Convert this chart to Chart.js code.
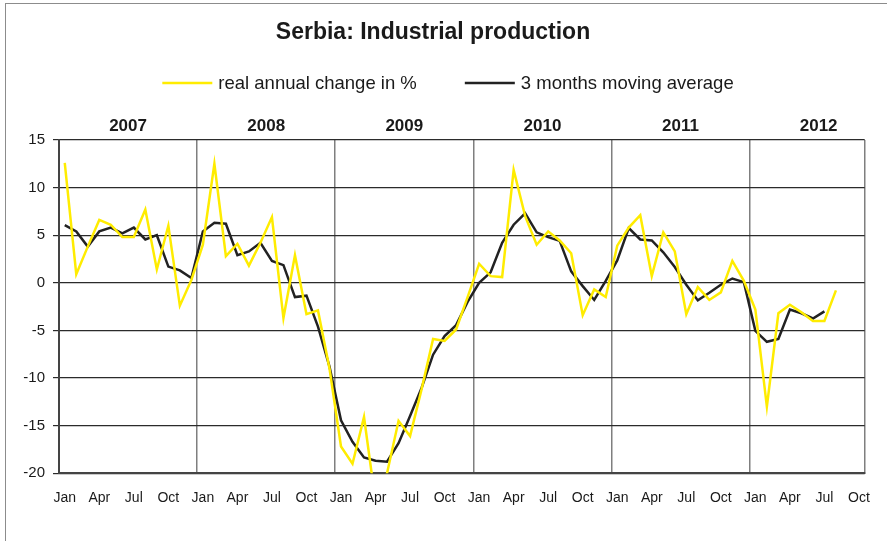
<!DOCTYPE html>
<html>
<head>
<meta charset="utf-8">
<title>Serbia: Industrial production</title>
<script src="https://cdn.jsdelivr.net/npm/chart.js@4.4.0/dist/chart.umd.min.js"></script>
<style>
  html, body { margin: 0; padding: 0; background: #fff; }
  #marco { position: relative; width: 887px; height: 541px; }
  #borde { position: absolute; left: 5px; top: 3px; right: 0; bottom: 0; border-left: 1px solid #8c8c8c; border-top: 1px solid #8c8c8c; pointer-events: none; }
</style>
</head>
<body>
<div id="marco">
  <canvas id="grafico" width="887" height="541"></canvas>
  <div id="borde"></div>
</div>
<script>
// Meses y años del eje horizontal (ene 2007 - oct 2012)
const meses = ['Jan', 'Feb', 'Mar', 'Apr', 'May', 'Jun', 'Jul', 'Aug', 'Sep', 'Oct', 'Nov', 'Dec'];
const anios = ['2007', '2008', '2009', '2010', '2011', '2012'];

// Producción industrial: variación anual real en %
const cambioAnual = [
    12.6, 0.9, 3.8, 6.6, 6.1, 4.8, 4.8, 7.7, 1.4, 6.0, -2.4, 0.3,        // 2007
    4.0, 12.5, 2.8, 4.1, 1.8, 4.2, 6.9, -3.7, 2.9, -3.3, -2.9, -9.0,     // 2008
    -17.2, -19.0, -14.1, -23.0, -20.0, -14.5, -16.1, -11.2, -5.9, -6.1, -4.9, -1.5, // 2009
    2.0, 0.7, 0.6, 11.85, 7.0, 4.0, 5.4, 4.45, 3.1, -3.4, -0.7, -1.5,    // 2010
    3.9, 5.8, 7.1, 0.7, 5.3, 3.3, -3.3, -0.45, -1.8, -1.0, 2.3, 0.2,     // 2011
    -2.8, -13.0, -3.2, -2.3, -3.1, -4.0, -4.0, -0.8, null, null          // 2012
];

// Media móvil de 3 meses
const mediaMovil = [
    6.05, 5.4, 3.8, 5.4, 5.8, 5.2, 5.8, 4.55, 5.0, 1.7, 1.3, 0.5,
    5.4, 6.3, 6.2, 2.9, 3.3, 4.2, 2.3, 1.85, -1.5, -1.35, -4.6, -8.8,
    -14.45, -16.7, -18.35, -18.7, -18.8, -16.85, -14.0, -11.05, -7.55, -5.6, -4.45, -2.0,
    0.0, 1.1, 4.2, 6.1, 7.3, 5.3, 4.8, 4.4, 1.2, -0.35, -1.8, 0.2,
    2.35, 5.75, 4.55, 4.45, 3.2, 1.65, -0.2, -1.85, -1.05, -0.2, 0.45, 0.07,
    -5.05, -6.2, -5.9, -2.8, -3.2, -3.75, -3.0, null, null, null
];

// Etiquetas mensuales (70 meses)
const etiquetas = [];
anios.forEach(function(anio) {
    meses.forEach(function(mes) {
        etiquetas.push(mes + ' ' + anio);
    });
});
etiquetas.length = cambioAnual.length;

const fuente = '"Liberation Sans", Arial, sans-serif';
Chart.defaults.font.family = fuente;
Chart.defaults.color = '#1a1a1a';

// Leyenda dibujada a mano: línea corta y texto, centrada bajo el título
const leyenda = {
    id: 'leyenda',
    afterDraw: function(chart) {
        const c = chart.ctx;
        const series = chart.data.datasets;
        const largo = 50, hueco = 6, separacion = 48, yLeyenda = 83;
        c.save();
        c.font = '18.5px ' + fuente;
        c.textBaseline = 'middle';
        const anchos = series.map(function(s) {
            return largo + hueco + c.measureText(s.label).width;
        });
        const total = anchos.reduce(function(a, b) { return a + b; }, 0) + separacion * (series.length - 1);
        let x = 448 - total / 2;
        series.forEach(function(s, i) {
            c.strokeStyle = s.borderColor;
            c.lineWidth = s.borderWidth;
            c.beginPath();
            c.moveTo(x, yLeyenda);
            c.lineTo(x + largo, yLeyenda);
            c.stroke();
            c.fillStyle = '#1a1a1a';
            c.fillText(s.label, x + largo + hueco, yLeyenda + 1);
            x += anchos[i] + separacion;
        });
        c.restore();
    }
};

const ctx = document.getElementById('grafico').getContext('2d');
const grafico = new Chart(ctx, {
    type: 'line',
    data: {
        labels: etiquetas,
        datasets: [{
            label: 'real annual change in %',
            data: cambioAnual,
            xAxisID: 'x',
            borderColor: '#ffec00',
            borderWidth: 2.5,
            pointRadius: 0,
            tension: 0
        }, {
            label: '3 months moving average',
            data: mediaMovil,
            xAxisID: 'x',
            borderColor: '#222222',
            borderWidth: 2.5,
            pointRadius: 0,
            tension: 0
        }]
    },
    options: {
        responsive: false,
        animation: false,
        layout: {
            padding: { left: 0, right: 21, top: 0, bottom: 17 }
        },
        plugins: {
            legend: { display: false },
            tooltip: { enabled: false },
            title: {
                display: true,
                text: 'Serbia: Industrial production',
                color: '#1a1a1a',
                font: { size: 23, weight: 'bold' },
                padding: { top: 19, bottom: 67 }
            }
        },
        scales: {
            x: {
                type: 'category',
                offset: true,
                grid: {
                    offset: true,
                    drawTicks: false,
                    lineWidth: 1.5,
                    // solo las líneas de separación de años (y el borde derecho)
                    color: function(c) {
                        return (c.index === undefined || c.index % 12 === 0) ? '#7f7f7f' : 'rgba(0,0,0,0)';
                    }
                },
                border: { color: '#444444', width: 2 },
                ticks: {
                    autoSkip: false,
                    maxRotation: 0,
                    padding: 17,
                    font: { size: 14 },
                    callback: function(valor, i) {
                        return i % 3 === 0 ? meses[i % 12] : '';
                    }
                }
            },
            // eje superior con los años centrados
            anios: {
                type: 'linear',
                position: 'top',
                min: -0.5,
                max: etiquetas.length - 0.5,
                grid: { display: false, drawTicks: false },
                border: { display: false },
                afterBuildTicks: function(escala) {
                    escala.ticks = anios.map(function(a, k) {
                        return { value: k * 12 + 5.5 };
                    });
                },
                ticks: {
                    padding: 3,
                    font: { size: 17, weight: 'bold' },
                    callback: function(valor) {
                        return anios[Math.round((valor - 5.5) / 12)];
                    }
                }
            },
            y: {
                min: -20,
                max: 15,
                afterFit: function(escala) {
                    escala.width = 59;
                },
                ticks: {
                    stepSize: 5,
                    padding: 8,
                    font: { size: 15 }
                },
                grid: { color: '#2b2b2b', lineWidth: 1.2, tickLength: 6 },
                border: { color: '#444444', width: 2 }
            }
        }
    },
    plugins: [leyenda]
});
</script>
</body>
</html>
